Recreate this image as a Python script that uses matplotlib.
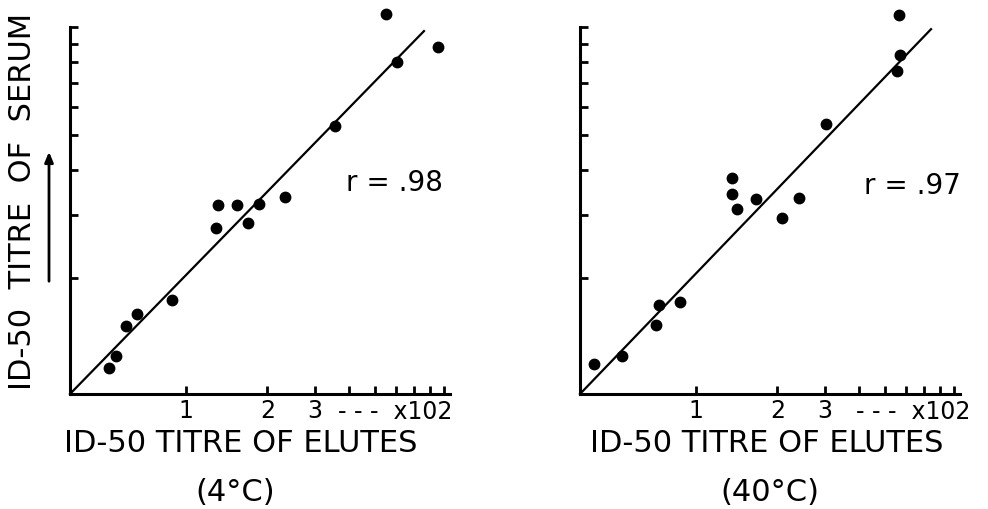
import numpy as np
import matplotlib
matplotlib.use('Agg')
import matplotlib.pyplot as plt

# ID-50 titres: elutes (x) against serum (y), log-log
x_4c = [0.52, 0.55, 0.60, 0.66, 0.89, 1.29, 1.31, 1.55, 1.70, 1.86, 2.33, 3.56, 5.50, 6.05, 8.58]
y_4c = [1.12, 1.21, 1.47, 1.59, 1.74, 2.76, 3.19, 3.19, 2.85, 3.21, 3.36, 5.30, 10.9, 7.99, 8.80]
x_40c = [0.42, 0.53, 0.71, 0.73, 0.87, 1.36, 1.36, 1.42, 1.67, 2.08, 2.41, 3.03, 5.65, 5.69, 5.55]
y_40c = [1.15, 1.21, 1.48, 1.68, 1.71, 3.80, 3.43, 3.11, 3.32, 2.94, 3.34, 5.37, 10.8, 8.36, 7.54]

# regression lines (end points)
fit_x_4c = [0.372, 7.61]
fit_y_4c = [0.95, 9.75]
fit_x_40c = [0.372, 7.42]
fit_y_40c = [0.95, 9.87]

r_labels = ['r = .98', 'r = .97']
temp_labels = ['(4°C)', '(40°C)']
xtick_vals = [1, 2, 3, 4, 5, 6, 7, 8, 9]
xtick_labels = ['1', '2', '3', '', '', '', '', '', '']
ytick_vals = [2, 3, 4, 5, 6, 7, 8, 9, 10]

xlim = (0.372, 9.5)
ylim = (0.95, 11.6)

fig = plt.figure(figsize=(9.88, 5.10), dpi=100)

# axes placed in pixels: origin at y=395, x=70 / 580
W, H = 988., 510.
ax1 = fig.add_axes([70/W, 115/H, 380/W, 390/H])
ax2 = fig.add_axes([580/W, 115/H, 380/W, 390/H])

panels = [(ax1, x_4c, y_4c, fit_x_4c, fit_y_4c, 1.006),
          (ax2, x_40c, y_40c, fit_x_40c, fit_y_40c, 1.028)]

for ax, xs, ys, fx, fy, unit_x in panels:
    ax.set_xscale('log')
    ax.set_yscale('log')
    ax.set_xlim(xlim)
    ax.set_ylim(ylim)
    ax.patch.set_visible(False)

    ax.plot(fx, fy, color='black', lw=1.6, clip_on=False)
    ax.plot(xs, ys, 'o', color='black', ms=7.5, clip_on=False)

    for s in ['top', 'right']:
        ax.spines[s].set_visible(False)
    for s in ['left', 'bottom']:
        ax.spines[s].set_linewidth(2.2)
    ax.spines['left'].set_bounds(ylim[0], 10)

    ax.xaxis.set_minor_locator(matplotlib.ticker.NullLocator())
    ax.yaxis.set_minor_locator(matplotlib.ticker.NullLocator())
    ax.set_xticks(xtick_vals)
    ax.set_xticklabels(xtick_labels)
    ax.set_yticks(ytick_vals)
    ax.set_yticklabels([])
    ax.tick_params(direction='in', length=6, width=2, colors='black')
    ax.tick_params(axis='x', pad=3, labelsize=17)

    # the "x 10^2" unit note sits in the tick label row
    ax.text(unit_x, -0.012, '- - -  x102', transform=ax.transAxes,
            ha='right', va='top', fontsize=17)

# r values
fig.text(394/W, 1 - 183/H, r_labels[0], ha='center', va='center', fontsize=20)
fig.text(912/W, 1 - 186/H, r_labels[1], ha='center', va='center', fontsize=20)

# x axis titles
fig.text(241/W, 1 - 444/H, 'ID-50 TITRE OF ELUTES', ha='center', va='center', fontsize=22)
fig.text(767/W, 1 - 444/H, 'ID-50 TITRE OF ELUTES', ha='center', va='center', fontsize=22)
fig.text(235/W, 1 - 493/H, temp_labels[0], ha='center', va='center', fontsize=22)
fig.text(770/W, 1 - 493/H, temp_labels[1], ha='center', va='center', fontsize=22)

# y axis title with the arrow
fig.text(23/W, 1 - 201/H, 'ID-50  TITRE  OF  SERUM', rotation=90,
         ha='center', va='center', fontsize=22)
fig.add_artist(matplotlib.patches.FancyArrowPatch(
    (49/W, 1 - 285/H), (49/W, 1 - 150/H), transform=fig.transFigure,
    arrowstyle='-|>,head_length=6,head_width=2.5', lw=2, color='black'))

fig.savefig('out.png', dpi=100)
